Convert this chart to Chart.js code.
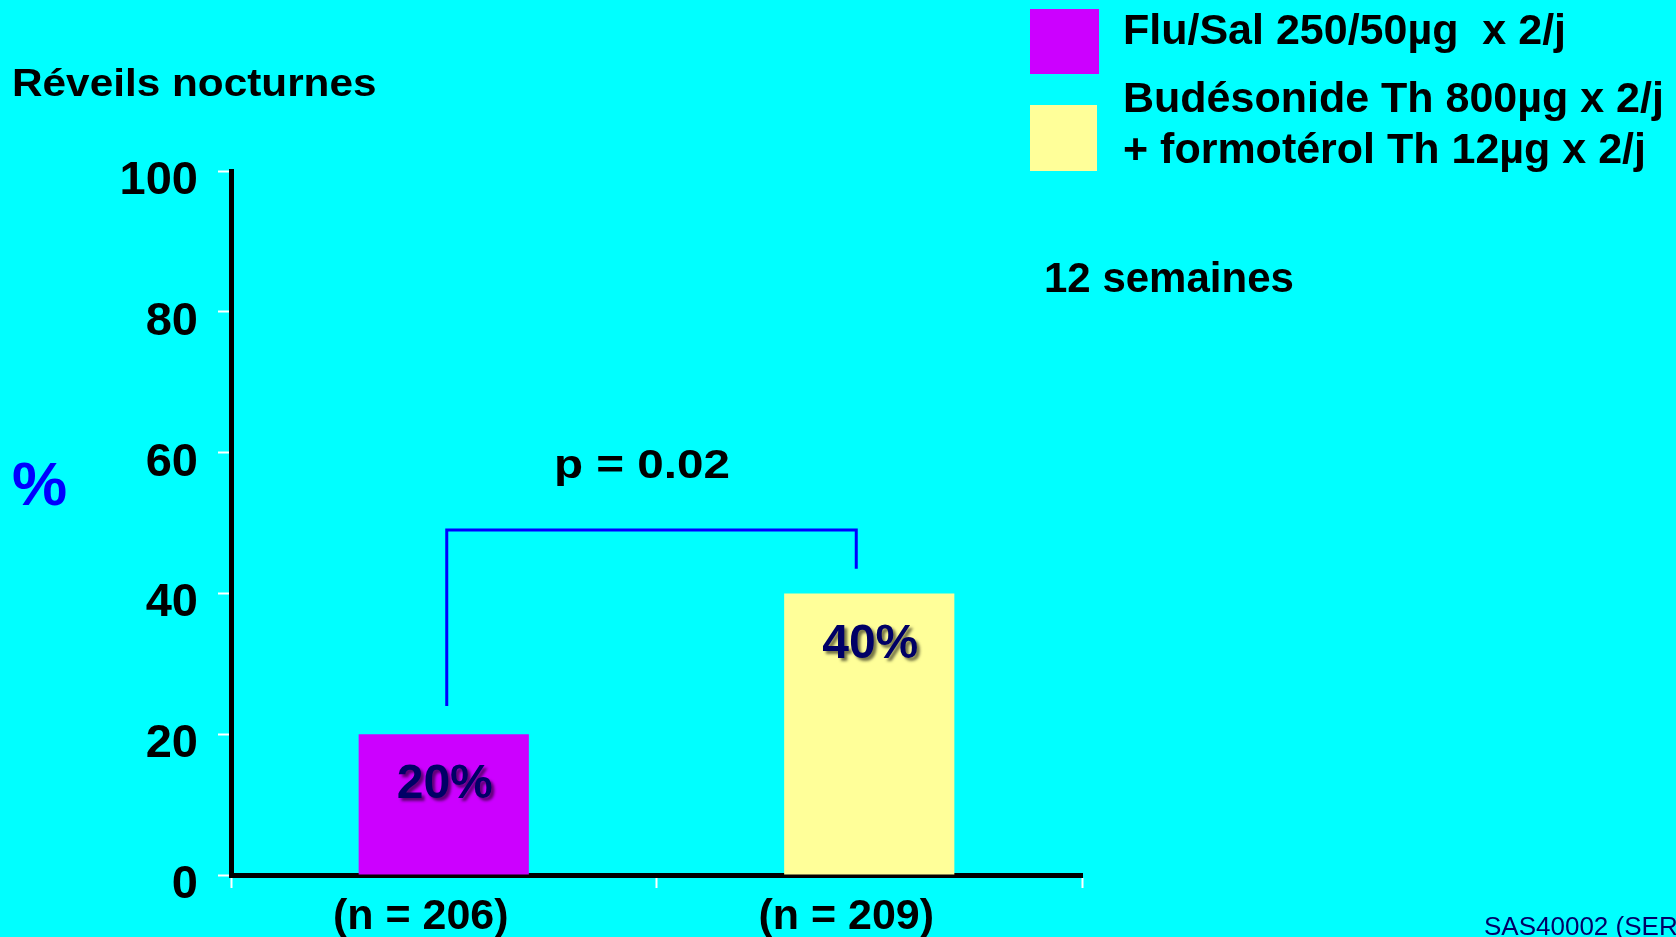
<!DOCTYPE html>
<html>
<head>
<meta charset="utf-8">
<script src="https://cdn.jsdelivr.net/npm/chart.js@4/dist/chart.umd.min.js"></script>
<style>
  html, body { margin: 0; padding: 0; background: #00FFFF; overflow: hidden; }
  #wrap { position: relative; width: 1676px; height: 937px; }
</style>
</head>
<body>
<div id="wrap"><canvas id="c" width="1676" height="937"></canvas></div>
<script>
// ---- data ----
const categories = ['(n = 206)', '(n = 209)'];
const values = [20, 40];                       // % of patients
const barColors = ['#CC00FF', '#FFFF99'];
const seriesNames = [
  ['Flu/Sal 250/50µg  x 2/j'],
  ['Budésonide Th 800µg x 2/j', '+ formotérol Th 12µg x 2/j']
];
const yTickValues = [0, 20, 40, 60, 80, 100];
const titleText = 'Réveils nocturnes';
const unitText = '%';
const pValueText = 'p = 0.02';
const durationText = '12 semaines';
const footerText = 'SAS40002 (SER';
const bracketLevel = 49;          // horizontal bar of the significance bracket (y value)
const bracketEnds = [24, 43.5];   // lower ends of its two legs (y values)

const FONT = '"Liberation Sans", Arial, Helvetica, sans-serif';

function drawText(ctx, txt, x, y, opts) {
  ctx.save();
  ctx.translate(x, y);
  ctx.scale(opts.sx || 1, 1);
  ctx.font = opts.font;
  ctx.fillStyle = opts.color || '#000';
  ctx.textAlign = opts.align || 'left';
  ctx.textBaseline = opts.baseline || 'alphabetic';
  if (opts.shadow) {
    ctx.shadowColor = opts.shadow;
    ctx.shadowOffsetX = 3;
    ctx.shadowOffsetY = 3;
    ctx.shadowBlur = 3;
  }
  ctx.fillText(txt, 0, 0);
  ctx.restore();
}

// slide background
const backgroundPlugin = {
  id: 'slideBackground',
  beforeDraw(chart) {
    const ctx = chart.ctx;
    ctx.save();
    ctx.fillStyle = '#00FFFF';
    ctx.fillRect(0, 0, chart.width, chart.height);
    ctx.restore();
  }
};

// value labels inside the bars
const barLabelPlugin = {
  id: 'barLabels',
  afterDatasetsDraw(chart) {
    const ctx = chart.ctx;
    const meta = chart.getDatasetMeta(0);
    meta.data.forEach((bar, i) => {
      drawText(ctx, values[i] + '%', bar.x + 1, bar.y + 51, {
        font: 'bold 48px ' + FONT, color: '#000066', align: 'center',
        baseline: 'middle', shadow: 'rgba(0,0,0,0.55)'
      });
    });
  }
};

// titles, legend, significance bracket, footer
const annotationPlugin = {
  id: 'slideAnnotations',
  afterDraw(chart) {
    const ctx = chart.ctx;
    const xs = chart.scales.x, ys = chart.scales.y;

    drawText(ctx, titleText, 12, 96, { font: 'bold 39px ' + FONT, sx: 1.085 });
    drawText(ctx, unitText, 12, 505, { font: 'bold 62px ' + FONT, color: '#0000FF' });

    // significance bracket between the two bars
    const x0 = xs.getPixelForValue(0) + 3;
    const x1 = xs.getPixelForValue(1) - 13;
    const yTop = ys.getPixelForValue(bracketLevel);
    ctx.save();
    ctx.strokeStyle = '#0000FF';
    ctx.lineWidth = 3;
    ctx.lineCap = 'butt';
    ctx.beginPath();
    ctx.moveTo(x0, ys.getPixelForValue(bracketEnds[0]));
    ctx.lineTo(x0, yTop);
    ctx.lineTo(x1, yTop);
    ctx.lineTo(x1, ys.getPixelForValue(bracketEnds[1]));
    ctx.stroke();
    ctx.restore();
    drawText(ctx, pValueText, 554, 478, { font: 'bold 40px ' + FONT, sx: 1.19 });

    // legend
    const rows = [
      { boxY: 9, boxH: 65, boxW: 69, baselines: [44] },
      { boxY: 105, boxH: 66, boxW: 67, baselines: [112, 163] }
    ];
    seriesNames.forEach((lines, i) => {
      const r = rows[i];
      ctx.fillStyle = barColors[i];
      ctx.fillRect(1030, r.boxY, r.boxW, r.boxH);
      lines.forEach((ln, k) => {
        drawText(ctx, ln, 1123, r.baselines[k], { font: 'bold 43px ' + FONT });
      });
    });

    drawText(ctx, durationText, 1044, 292, { font: 'bold 42px ' + FONT });
    drawText(ctx, footerText, 1484, 935, { font: '26px ' + FONT, color: '#000066' });
  }
};

new Chart(document.getElementById('c'), {
  type: 'bar',
  data: {
    labels: categories,
    datasets: [{
      label: seriesNames.map(l => l.join(' ')).join(' / '),
      data: values,
      backgroundColor: barColors,
      borderWidth: 0,
      barPercentage: 0.5,
      categoryPercentage: 0.8
    }]
  },
  options: {
    responsive: false,
    animation: false,
    devicePixelRatio: 1,
    layout: { padding: { left: 0, top: 171, right: 594, bottom: 0 } },
    plugins: {
      legend: { display: false },
      title: { display: false },
      tooltip: { enabled: false }
    },
    scales: {
      x: {
        z: 1,
        offset: true,
        afterFit(scale) { scale.height = 62; },
        grid: {
          drawOnChartArea: false, drawTicks: true, tickLength: 13,
          color: '#FFFFFF', tickWidth: 2, offset: true
        },
        border: { display: true, color: '#000000', width: 5 },
        ticks: {
          color: '#000000', padding: 3, labelOffset: -23,
          font: { family: FONT, size: 43, weight: 'bold' }
        }
      },
      y: {
        z: 1,
        min: 0, max: 100,
        afterFit(scale) { scale.width = 231; },
        afterBuildTicks(scale) { scale.ticks = yTickValues.map(v => ({ value: v })); },
        grid: {
          drawOnChartArea: false, drawTicks: true, tickLength: 13,
          color: '#FFFFFF', tickWidth: 2
        },
        border: { display: true, color: '#000000', width: 5 },
        ticks: {
          color: '#000000', padding: 20, labelOffset: 10,
          font: { family: FONT, size: 47, weight: 'bold' }
        }
      }
    }
  },
  plugins: [backgroundPlugin, barLabelPlugin, annotationPlugin]
});
</script>
</body>
</html>
